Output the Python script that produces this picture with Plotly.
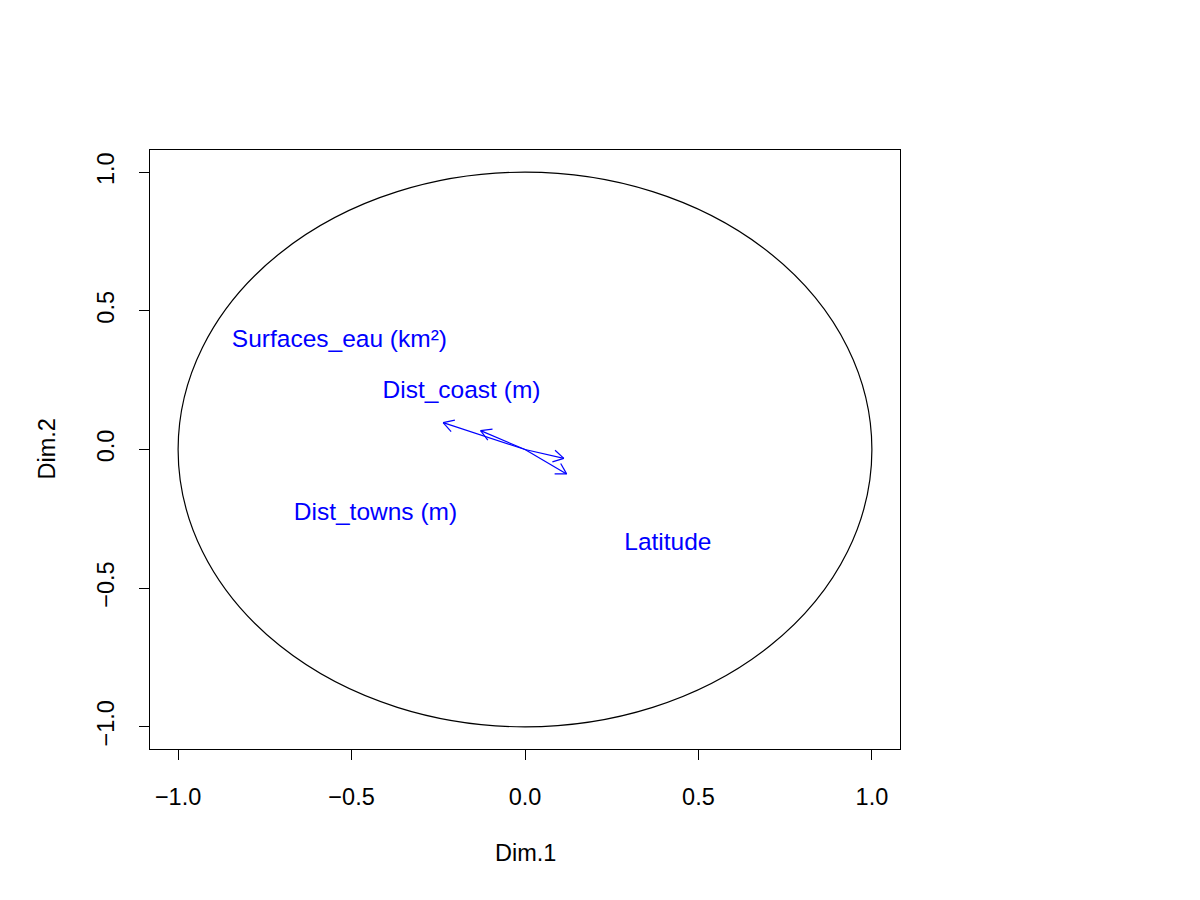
import numpy as np
import plotly.graph_objects as go

# Variable arrows (Dim.1, Dim.2 coordinates of arrow tips)
arrow_x = [-0.236, -0.128, 0.112, 0.120]
arrow_y = [0.097, 0.068, -0.032, -0.088]

# Labels and their positions
labels = ["Surfaces_eau (km²)", "Dist_coast (m)", "Dist_towns (m)", "Latitude"]
label_x = [-0.535, -0.183, -0.431, 0.412]
label_y = [0.391, 0.207, -0.232, -0.340]

tick_vals = [-1.0, -0.5, 0.0, 0.5, 1.0]
tick_text = ["\u22121.0", "\u22120.5", "0.0", "0.5", "1.0"]

W, H = 1200, 900
L, R, T, B = 150, 300, 150, 151
xr = [-1.081, 1.081]
yr = [-1.08, 1.08]
pxx = (W - L - R) / (xr[1] - xr[0])
pxy = (H - T - B) / (yr[1] - yr[0])

# Build arrow segments with heads (head length ~12px, angle 30 deg)
xs, ys = [], []
head_len = 12.0
ang = np.deg2rad(30)
for x1, y1 in zip(arrow_x, arrow_y):
    xs += [0, x1, None]
    ys += [0, y1, None]
    dxp, dyp = x1 * pxx, y1 * pxy
    th = np.arctan2(dyp, dxp)
    for s in (+1, -1):
        a = th + np.pi + s * ang
        hx = x1 + head_len * np.cos(a) / pxx
        hy = y1 + head_len * np.sin(a) / pxy
        xs += [x1, hx, None]
        ys += [y1, hy, None]

FONT = "Liberation Sans, Arial"

fig = go.Figure()
fig.add_trace(go.Scatter(x=xs, y=ys, mode="lines",
                         line=dict(color="#0000FF", width=1.2),
                         hoverinfo="skip", showlegend=False))
fig.add_trace(go.Scatter(x=label_x, y=label_y, mode="text", text=labels,
                         textfont=dict(color="#0000FF", size=24.5, family=FONT),
                         textposition="middle center", showlegend=False))

fig.add_shape(type="circle", xref="x", yref="y", x0=-1, x1=1, y0=-1, y1=1,
              line=dict(color="black", width=1.2))

axis_common = dict(showgrid=False, zeroline=False, showline=True, linecolor="black",
                   linewidth=1.2, mirror=True, ticks="outside", ticklen=10,
                   tickwidth=1.2, tickcolor="black",
                   tickfont=dict(size=23.5, family=FONT, color="black"),
                   tickvals=tick_vals, ticktext=tick_text)

fig.update_layout(
    width=W, height=H,
    margin=dict(l=L, r=R, t=T, b=B),
    plot_bgcolor="white", paper_bgcolor="white",
    xaxis=dict(range=xr, ticklabelstandoff=17, **axis_common),
    yaxis=dict(range=yr, tickangle=-90, ticklabelstandoff=16, **axis_common),
    font=dict(family=FONT, color="black"),
    annotations=[
        dict(text="Dim.1", xref="paper", yref="paper", x=0.5, y=0, yanchor="middle",
             yshift=-104, showarrow=False, font=dict(size=23.5)),
        dict(text="Dim.2", xref="paper", yref="paper", x=0, y=0.5, xanchor="center",
             xshift=-104, textangle=-90, showarrow=False, font=dict(size=23.5)),
    ],
)

fig.write_html("out.html")
